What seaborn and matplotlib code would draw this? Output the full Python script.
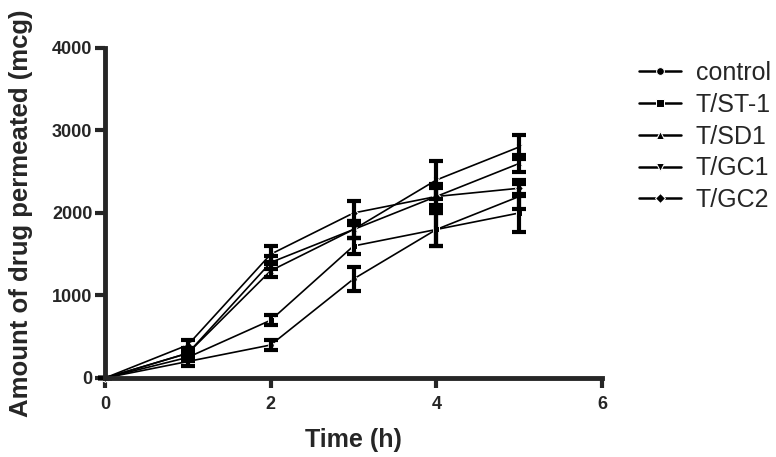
import pandas as pd
import numpy as np
import matplotlib.pyplot as plt
import seaborn as sns

sns.set_style("ticks")
plt.rcParams['font.family'] = ['Liberation Sans', 'DejaVu Sans']

# Data
time_h = [0, 1, 2, 3, 4, 5]
groups = ['control', 'T/ST-1', 'T/SD1', 'T/GC1', 'T/GC2']
control = [0, 200, 400, 1200, 1800, 2200]
t_st1 = [0, 250, 700, 1600, 1800, 2000]
t_sd1 = [0, 300, 1300, 1800, 2200, 2600]
t_gc1 = [0, 300, 1400, 1800, 2400, 2800]
t_gc2 = [0, 400, 1500, 2000, 2200, 2300]
control_sd = [0, 60, 60, 140, 200, 150]
t_st1_sd = [0, 50, 60, 100, 200, 230]
t_sd1_sd = [0, 50, 80, 100, 100, 100]
t_gc1_sd = [0, 60, 80, 100, 230, 150]
t_gc2_sd = [0, 60, 100, 150, 150, 100]

means = [control, t_st1, t_sd1, t_gc1, t_gc2]
sds = [control_sd, t_st1_sd, t_sd1_sd, t_gc1_sd, t_gc2_sd]

rows = []
for g, m, s in zip(groups, means, sds):
    for t, v, e in zip(time_h, m, s):
        rows.append({'Time': t, 'Amount': v, 'SD': e, 'Group': g})
df = pd.DataFrame(rows)

marker_map = {'control': 'o', 'T/ST-1': 's', 'T/SD1': '^', 'T/GC1': 'v', 'T/GC2': 'D'}

fig = plt.figure(figsize=(7.76, 4.57), dpi=100)
ax = fig.add_axes([0.1353, 0.1729, 0.6405, 0.7221])

sns.lineplot(data=df, x='Time', y='Amount', hue='Group', style='Group',
             markers=marker_map, dashes=False, palette=['black'] * 5,
             markersize=4, linewidth=1.2, ax=ax)

for g in groups:
    sub = df[df['Group'] == g]
    ax.errorbar(sub['Time'], sub['Amount'], yerr=sub['SD'], fmt='none',
                ecolor='black', elinewidth=3, capsize=5, capthick=3)

ax.set_xlim(0, 6)
ax.set_ylim(0, 4000)
ax.set_xticks([0, 2, 4, 6])
ax.set_yticks([0, 1000, 2000, 3000, 4000])
ax.set_xlabel('Time (h)', fontsize=18, fontweight='bold', labelpad=11)
ax.set_ylabel('Amount of drug permeated (mcg)', fontsize=18.5, fontweight='bold', labelpad=14)
for lab in ax.get_xticklabels() + ax.get_yticklabels():
    lab.set_fontweight('bold')
ax.tick_params(axis='both', labelsize=13, width=3, length=7, direction='out')
ax.tick_params(axis='x', pad=6)
ax.tick_params(axis='y', pad=2)
sns.despine(ax=ax)
for sp in ['left', 'bottom']:
    ax.spines[sp].set_linewidth(3.5)
for art in ax.lines + ax.collections:
    art.set_clip_on(False)

leg = ax.legend(loc='upper left', bbox_to_anchor=(1.075, 0.96), frameon=False,
                fontsize=18, handlelength=1.65, labelspacing=0.31, handletextpad=0.6,
                borderaxespad=0, borderpad=0, markerscale=1.4)
for h in leg.get_lines():
    h.set_linewidth(1.8)

fig.savefig('out.png', dpi=100)
